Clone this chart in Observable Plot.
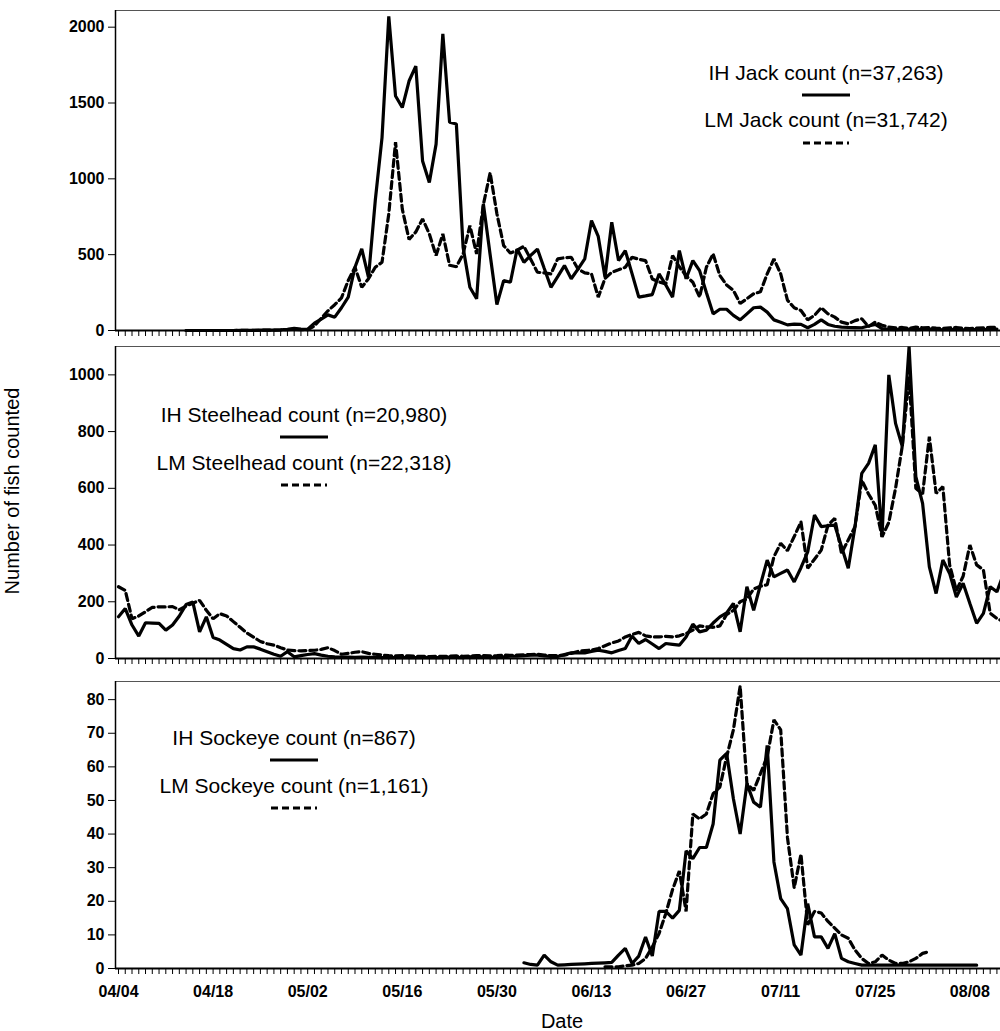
<!DOCTYPE html>
<html><head><meta charset="utf-8">
<script src="https://cdn.jsdelivr.net/npm/d3@7"></script>
<script src="https://cdn.jsdelivr.net/npm/@observablehq/plot@0.6"></script>
<style>
html,body{margin:0;padding:0;background:#fff;}
#wrap{position:relative;width:1000px;height:1031px;overflow:hidden;font-family:"Liberation Sans",Arial,sans-serif;color:#000;}
#wrap svg{display:block;}
.lg{position:absolute;font-size:21px;white-space:nowrap;transform:translate(-50%,-50%);line-height:1;}
.sw{position:absolute;height:3px;transform:translateY(-50%);}
.sw.solid{background:#000;}
.sw.dash{background:repeating-linear-gradient(to right,#000 0 7px,transparent 7px 11px);}
.ttl{position:absolute;font-size:20px;white-space:nowrap;line-height:1;}
</style></head><body><div id="wrap"></div>
<script>
// x tick labels every 14 days starting 04/04 (day 0)
const xTickLabels = ["04/04","04/18","05/02","05/16","05/30","06/13","06/27","07/11","07/25","08/08"];
const lastDay = 130;

// Panel 1: Jack counts (values start at day index given)
const ihJackStart = 10;
const ihJack = [0,0,0,0,0,0,0,0,1,1,
  1,2,2,3,4,8,14,10,8,48,
  75,103,88,150,220,417,538,351,857,1272,
  2072,1546,1470,1645,1743,1118,976,1229,1956,1373,
  1362,548,285,209,835,500,171,329,318,537,
  450,495,537,410,285,355,428,341,405,472,
  725,620,351,714,461,527,375,220,228,237,
  373,300,220,527,341,461,395,250,110,140,
  140,100,70,110,150,154,121,70,55,37,
  42,40,18,40,70,40,28,22,20,19,
  18,30,40,12,8,6,8,7,6,8,
  10,7,5,6,8,6,5,7,6,8,10];
const lmJackStart = 10;
const lmJack = [0,0,0,0,0,0,0,0,1,1,
  1,2,2,3,4,6,8,5,5,30,
  80,130,170,215,330,417,285,341,417,450,
  769,1242,800,600,650,736,637,494,637,430,
  420,505,692,505,830,1040,770,560,510,530,
  555,470,384,380,373,472,480,483,406,380,
  373,220,343,384,400,417,483,470,461,340,
  320,307,494,420,360,318,220,417,505,362,
  300,264,178,210,242,255,373,472,373,200,
  150,132,70,100,150,110,88,55,44,65,
  77,26,55,35,22,18,20,15,22,18,
  20,16,14,18,20,15,12,16,18,20,22];

// Panel 2: Steelhead counts
const ihSteelStart = 0;
const ihSteel = [147,176,118,79,126,125,124,100,118,150,
  190,199,94,147,74,65,50,35,30,41,
  41,33,24,15,8,24,6,10,14,17,
  12,8,6,5,5,4,5,4,4,3,
  4,3,3,4,3,3,4,3,3,5,
  4,3,6,8,5,4,4,6,8,8,
  10,12,12,9,7,7,14,20,20,20,
  25,29,25,20,28,35,79,53,67,51,
  35,53,50,47,76,121,94,100,125,147,
  161,194,94,253,170,260,347,288,300,312,
  270,320,376,506,465,468,470,395,318,465,
  653,688,753,429,1000,829,747,1100,641,547,
  323,229,347,300,217,265,194,124,159,253,235,300];
const lmSteelStart = 0;
const lmSteel = [253,240,140,150,165,180,182,182,183,172,
  185,195,205,170,140,158,150,130,110,90,
  75,60,52,47,38,30,28,27,28,29,
  32,38,28,15,18,22,24,18,15,12,
  10,9,10,9,8,8,7,8,8,8,
  9,8,9,10,10,9,10,12,11,12,
  13,14,15,12,10,10,12,18,25,28,
  30,35,45,55,62,76,85,92,80,76,
  76,78,76,80,88,100,115,112,110,115,
  155,170,200,210,245,255,260,359,406,380,
  430,482,318,350,382,470,494,371,418,465,
  629,580,540,429,480,600,750,994,600,580,
  782,582,606,330,240,290,400,330,312,160,141,130];

// Panel 3: Sockeye counts
const ihSockStart = 60;
const ihSock = [1.7,1.2,1,4,2,1,1.1,1.2,1.3,1.4,
  1.5,1.6,1.7,1.8,4,6,1.5,3.7,9.4,3.7,
  17,17,15,17.3,35,32.7,36,36,43,62,
  64,50.5,40,55,49.5,48,66.4,31.7,20.8,17.8,
  7,4,19.3,9.4,9.4,6,10.4,3,2,1.5,
  1,1,1,1,1,1,1,1,1,1,1,1,1,1,1,1,1,1];
const lmSockStart = 72;
const lmSock = [0.5,0.5,0.5,0.8,1,1.5,3,6.4,
  10.4,16.4,23.5,29,17,46,44.5,46,52,54,
  63,71,84,55,53,58,63,74,71,39,
  24,34,13,17,16.5,14,12,10,9,5.5,
  3,1.5,2,4,2.5,1.5,1.5,2,3,4.5,5];

const legends = [
  {ih: "IH Jack count (n=37,263)", lm: "LM Jack count (n=31,742)"},
  {ih: "IH Steelhead count (n=20,980)", lm: "LM Steelhead count (n=22,318)"},
  {ih: "IH Sockeye count (n=867)", lm: "LM Sockeye count (n=1,161)"}
];

const toRows = (start, arr) => arr.map((v, i) => ({day: start + i, value: v}));
const xDomain = [-0.444, 130.53];
const dayTicks = d3.range(0, lastDay + 1);

function panel(o) {
  return Plot.plot({
    width: 1000, height: o.height,
    marginLeft: 115, marginRight: 0, marginTop: o.marginTop, marginBottom: o.marginBottom,
    style: {fontFamily: "Liberation Sans, Arial, sans-serif", fontSize: "16px", fontWeight: "bold", color: "#000", background: "#fff", overflow: "visible"},
    x: {domain: xDomain, ticks: dayTicks, tickSize: 6, tickPadding: 11, label: null,
        tickFormat: o.labels ? (d => (d % 14 === 0 && xTickLabels[d / 14]) ? xTickLabels[d / 14] : "") : () => ""},
    y: {domain: o.yDomain, ticks: o.yTicks, tickSize: 7, tickPadding: 4, label: null, tickFormat: d => String(d)},
    marks: [
      Plot.ruleY([o.yDomain[1]], {stroke: "#555", strokeWidth: 1.2}),
      Plot.ruleX([xDomain[0]], {stroke: "#000", strokeWidth: 1.5}),
      Plot.line(o.solid, {x: "day", y: "value", stroke: "#000", strokeWidth: 3.2, strokeLinejoin: "miter"}),
      Plot.line(o.dashed, {x: "day", y: "value", stroke: "#000", strokeWidth: 3.2, strokeDasharray: "7,4", strokeLinejoin: "miter"}),
      Plot.ruleY([0], {stroke: "#000", strokeWidth: 2})
    ]
  });
}

const wrap = document.getElementById("wrap");
wrap.appendChild(panel({height: 340, marginTop: 10, marginBottom: 10, yDomain: [0, 2110], yTicks: [0,500,1000,1500,2000],
  solid: toRows(ihJackStart, ihJack), dashed: toRows(lmJackStart, lmJack), labels: false}));
wrap.appendChild(panel({height: 330, marginTop: 6, marginBottom: 12, yDomain: [0, 1100], yTicks: [0,200,400,600,800,1000],
  solid: toRows(ihSteelStart, ihSteel), dashed: toRows(lmSteelStart, lmSteel), labels: false}));
wrap.appendChild(panel({height: 361, marginTop: 11, marginBottom: 63, yDomain: [0, 85.4], yTicks: [0,10,20,30,40,50,60,70,80],
  solid: toRows(ihSockStart, ihSock), dashed: toRows(lmSockStart, lmSock), labels: true}));

// legends (layout positions)
const legendPos = [
  {cx: 826, y1: 72, ys: 95, y2: 119, yd: 143},
  {cx: 304, y1: 414, ys: 437, y2: 462, yd: 485},
  {cx: 294, y1: 737, ys: 760, y2: 785, yd: 808}
];
legends.forEach((lg, i) => {
  const p = legendPos[i];
  const t1 = document.createElement("div"); t1.className = "lg"; t1.textContent = lg.ih;
  t1.style.left = p.cx + "px"; t1.style.top = p.y1 + "px"; wrap.appendChild(t1);
  const s1 = document.createElement("div"); s1.className = "sw solid";
  s1.style.left = (p.cx - 24) + "px"; s1.style.width = "48px"; s1.style.top = p.ys + "px"; wrap.appendChild(s1);
  const t2 = document.createElement("div"); t2.className = "lg"; t2.textContent = lg.lm;
  t2.style.left = p.cx + "px"; t2.style.top = p.y2 + "px"; wrap.appendChild(t2);
  const s2 = document.createElement("div"); s2.className = "sw dash";
  s2.style.left = (p.cx - 23) + "px"; s2.style.width = "46px"; s2.style.top = p.yd + "px"; wrap.appendChild(s2);
});

const yt = document.createElement("div"); yt.className = "ttl"; yt.textContent = "Number of fish counted";
yt.style.left = "12px"; yt.style.top = "491px"; yt.style.transform = "translate(-50%,-50%) rotate(-90deg)";
wrap.appendChild(yt);
const xt = document.createElement("div"); xt.className = "ttl"; xt.textContent = "Date";
xt.style.left = "562px"; xt.style.top = "1021px"; xt.style.transform = "translate(-50%,-50%)";
wrap.appendChild(xt);
</script></body></html>
